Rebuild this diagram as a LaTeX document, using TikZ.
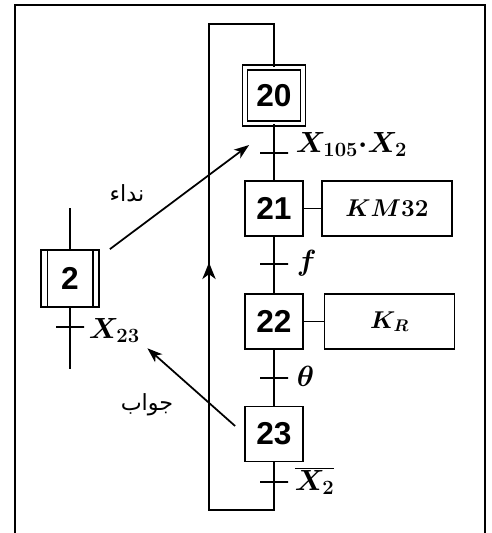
\documentclass[tikz,border=0pt]{standalone}
\usepackage{fontspec}
\usetikzlibrary{arrows.meta,decorations.markings}
\newfontfamily\stepfont{Liberation Sans}
\newfontfamily\arabicfont[Script=Arabic]{DejaVu Sans}
\TeXXeTstate=1

\begin{document}
\begin{tikzpicture}[
    x=0.03cm, y=-0.03cm, line width=1.5pt,
    stepbox/.style={draw, minimum width=1.74cm, minimum height=1.65cm, inner sep=0pt,
                    font=\stepfont\bfseries\fontsize{27}{30}\selectfont},
    initbox/.style={stepbox, double, double distance=0.1cm, minimum height=1.68cm},
    trans/.style={draw, minimum width=0.84cm, minimum height=0pt, inner sep=0pt},
    action/.style={draw, minimum width=3.9cm, minimum height=1.65cm,
                   font=\fontsize{21}{24}\selectfont\boldmath},
    cond/.style={inner sep=0pt, font=\fontsize{24}{28}\selectfont\boldmath},
    note/.style={font=\arabicfont\fontsize{19}{22}\selectfont},
    link/.style={-{Stealth[length=0.45cm, width=0.32cm, inset=0.12cm]}},
    loopback/.style={postaction={decorate}, decoration={markings,
        mark=at position 0.51 with {\arrow{Stealth[length=0.5cm, width=0.4cm, inset=0.15cm]}}}},
  ]
  \useasboundingbox (0,0) rectangle (491,533);
  % frame
  \draw (15,533) -- (15,5) -- (485,5) -- (485,533);

  % main grafcet
  \node[initbox] (s20) at (274,95.5) {20};
  \node[trans]   (t1)  at (274,153) {};
  \node[stepbox] (s21) at (274,208.5) {21};
  \node[trans]   (t2)  at (274,264) {};
  \node[stepbox] (s22) at (274,321.5) {22};
  \node[trans]   (t3)  at (274,378) {};
  \node[stepbox] (s23) at (274,434) {23};
  \node[trans]   (t4)  at (274,482) {};
  \coordinate (lb) at (209,510);
  \coordinate (lt) at (209,24);

  \node[action] (a21) at (387,208.5) {$KM32$};
  \node[action] (a22) at (389.5,321.5) {$K_R$};

  \node[cond, anchor=base west] (c1) at (295,152) {$X_{105}{\cdot}X_2$};
  \node[cond, anchor=base west] (c2) at (296,270) {$f$};
  \node[cond, anchor=base west] (c3) at (296,386) {$\theta$};
  \node[cond, anchor=base west] (c4) at (294,490) {$\overline{X_2}$};

  \draw (s20.south) -- (s21.north);
  \draw (s21.south) -- (s22.north);
  \draw (s22.south) -- (s23.north);
  \draw[loopback] (s23.south) |- (lb) -- (lt) -| (s20.north);
  \draw (s21.east) -- (a21.west);
  \draw (s22.east) -- (a22.west);

  % step 2 of the other grafcet
  \node[stepbox, minimum height=1.71cm] (s2) at (70,278.5) {2};
  \draw ([xshift=0.22cm]s2.north west) -- ([xshift=0.22cm]s2.south west);
  \draw ([xshift=-0.2cm]s2.north east) -- ([xshift=-0.2cm]s2.south east);
  \node[trans] (t0) at (70,327) {};
  \coordinate (s2top) at (70,208);
  \coordinate (s2bot) at (70,369);
  \draw (s2top) -- (s2.north);
  \draw (s2.south) -- (s2bot);
  \node[cond, anchor=base west] (x23) at (88,338) {$X_{23}$};

  % synchronisation
  \draw[link] ([xshift=0.3cm]s2.north east) -- ([xshift=-0.3cm, yshift=0.24cm]t1.west);
  \draw[link] ([xshift=-0.27cm, yshift=0.24cm]s23.west) -- ([xshift=0.2cm, yshift=-0.15cm]x23.south east);
  \node[note] (nida)  at (127,193) {\beginR نداء\endR};
  \node[note] (jawab) at (147,405) {\beginR جواب\endR};
\end{tikzpicture}
\end{document}
